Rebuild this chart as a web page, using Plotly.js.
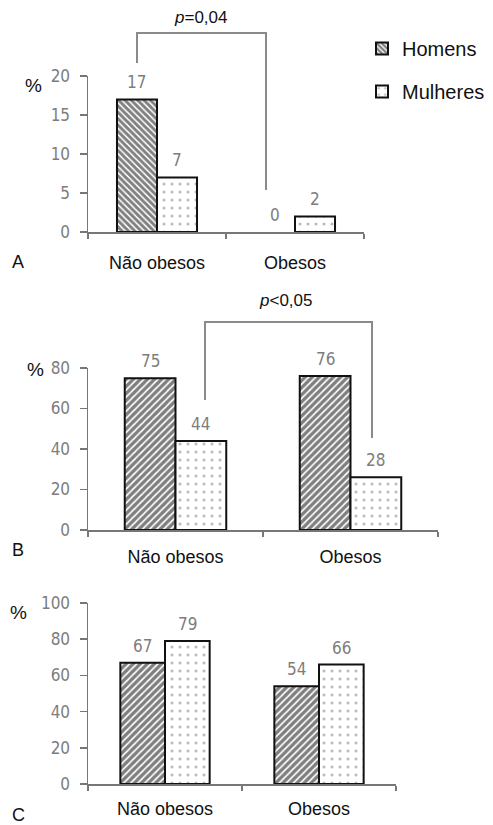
<!DOCTYPE html>
<html>
<head>
<meta charset="utf-8">
<script src="https://cdn.plot.ly/plotly-3.0.1.min.js"></script>
<style>html,body{margin:0;padding:0;background:#fff;}#chart{width:493px;height:825px;}</style>
</head>
<body>
<div id="chart"></div>
<script>
// ---- data ----
const categories = ['Não obesos', 'Obesos'];
const homensA = [17, 0];
const mulheresA = [7, 2];
const homensALabels = ['17', '0'];
const mulheresALabels = ['7', '2'];
const homensB = [75, 76];
const mulheresB = [44, 26];
const homensBLabels = ['75', '76'];
const mulheresBLabels = ['44', '28'];
const homensC = [67, 54];
const mulheresC = [79, 66];
const homensCLabels = ['67', '54'];
const mulheresCLabels = ['79', '66'];
const yTicksA = [0, 5, 10, 15, 20];
const yTicksB = [0, 20, 40, 60, 80];
const yTicksC = [0, 20, 40, 60, 80, 100];
const pTextA = '<i>p</i>=0,04';
const pTextB = '<i>p</i>&lt;0,05';

// ---- helpers ----
const W = 493, H = 825;
const px = x => x / W;
const py = y => 1 - y / H;
const BARGAP = 0.42;
const grayText = '#7d7d7d';
const numFont = {family: '"Liberation Sans Narrow", "DejaVu Sans Condensed", Arial, sans-serif', size: 17, color: grayText};
const blackFont = {family: '"Liberation Sans", Arial, sans-serif', size: 18, color: '#111'};

function hatch(shape, size) {
  return {shape: shape, size: size, solidity: 0.66, fgcolor: '#000', bgcolor: '#fff', fillmode: 'overlay'};
}
const dots = {shape: '.', size: 8, solidity: 0.12, fgcolor: '#777', bgcolor: '#fff', fillmode: 'overlay'};

function barTrace(name, vals, xa, ya, pattern, showlegend, group) {
  return {
    type: 'bar', name: name, x: categories, y: vals,
    xaxis: xa, yaxis: ya, showlegend: showlegend, legendgroup: group,
    marker: {color: '#fff', pattern: pattern,
      line: {color: '#111', width: vals.map(v => v === 0 ? 0 : 2)}},
    hoverinfo: 'skip'
  };
}

const data = [
  barTrace('Homens', homensA, 'x', 'y', hatch('\\', 4.5), true, 'h'),
  barTrace('Mulheres', mulheresA, 'x', 'y', dots, true, 'm'),
  barTrace('Homens', homensB, 'x2', 'y2', hatch('/', 5), false, 'h'),
  barTrace('Mulheres', mulheresB, 'x2', 'y2', dots, false, 'm'),
  barTrace('Homens', homensC, 'x3', 'y3', hatch('/', 5), false, 'h'),
  barTrace('Mulheres', mulheresC, 'x3', 'y3', dots, false, 'm')
];

// value labels placed through the axes' own scales
const halfBar = (1 - BARGAP) / 4;
function valueLabels(vals, labels, xa, ya, side) {
  return vals.map((v, i) => ({
    text: labels[i], xref: xa, yref: ya, x: i + side * halfBar, y: v,
    xanchor: 'center', yanchor: 'bottom', yshift: 5, showarrow: false, font: numFont
  }));
}

function xAxis(dom, anchor, standoff) {
  return {domain: dom, anchor: anchor, type: 'category', range: [-0.5, 1.5],
    showline: true, linecolor: '#777', linewidth: 1.5, ticks: 'outside', tickson: 'boundaries',
    ticklen: 5, tickcolor: '#777', tickwidth: 1.5, showgrid: false, zeroline: false,
    tickfont: blackFont, ticklabelstandoff: standoff, fixedrange: true};
}
function yAxis(dom, anchor, range, ticks) {
  return {domain: dom, anchor: anchor, range: range, tickvals: ticks,
    showline: true, linecolor: '#777', linewidth: 1.5, ticks: 'outside', ticklen: 7,
    tickcolor: '#777', tickwidth: 1.5, showgrid: false, zeroline: false,
    tickfont: numFont, ticklabelstandoff: 6, fixedrange: true};
}

function ann(text, x, y, font) {
  return {text: text, xref: 'paper', yref: 'paper', x: px(x), y: py(y),
    xanchor: 'center', yanchor: 'middle', showarrow: false, font: font};
}
const labelFont = {family: '"Liberation Sans", Arial, sans-serif', size: 18, color: '#111'};
const pctFont = {family: '"Liberation Sans", Arial, sans-serif', size: 19, color: '#111'};
const pFont = {family: '"Liberation Sans", Arial, sans-serif', size: 17, color: '#111'};

const bracketStyle = {color: '#8a8a8a', width: 2};

const layout = {
  width: W, height: H,
  margin: {l: 0, r: 0, t: 0, b: 0},
  paper_bgcolor: '#fff', plot_bgcolor: 'rgba(0,0,0,0)',
  barmode: 'group', bargap: BARGAP, bargroupgap: 0,
  xaxis: xAxis([px(88), px(364)], 'y', 14),
  yaxis: yAxis([py(232), py(76)], 'x', [0, 20], yTicksA),
  xaxis2: xAxis([px(88), px(438)], 'y2', 10),
  yaxis2: yAxis([py(530), py(368)], 'x2', [0, 80], yTicksB),
  xaxis3: xAxis([px(88), px(396)], 'y3', 8),
  yaxis3: yAxis([py(784), py(603)], 'x3', [0, 100], yTicksC),
  showlegend: true,
  legend: {x: px(362), y: py(29), xanchor: 'left', yanchor: 'top',
    font: {family: '"Liberation Sans", Arial, sans-serif', size: 20, color: '#111'},
    traceorder: 'grouped', tracegroupgap: 14, bgcolor: 'rgba(0,0,0,0)'},
  shapes: [
    {type: 'path', xref: 'paper', yref: 'paper', line: bracketStyle,
      path: `M ${px(137)},${py(63)} L ${px(137)},${py(33)} L ${px(266)},${py(33)} L ${px(266)},${py(190)}`},
    {type: 'path', xref: 'paper', yref: 'paper', line: bracketStyle,
      path: `M ${px(205)},${py(400)} L ${px(205)},${py(322)} L ${px(372)},${py(322)} L ${px(372)},${py(438)}`}
  ],
  annotations: [
    ann(pTextA, 200, 17, pFont),
    ann(pTextB, 285, 300, pFont),
    ann('%', 33, 85, pctFont),
    ann('%', 35, 369, pctFont),
    ann('%', 18, 612, pctFont),
    ann('A', 18, 262, labelFont),
    ann('B', 18, 550, labelFont),
    ann('C', 18, 815, labelFont)
  ].concat(
    valueLabels(homensA, homensALabels, 'x', 'y', -1),
    valueLabels(mulheresA, mulheresALabels, 'x', 'y', 1),
    valueLabels(homensB, homensBLabels, 'x2', 'y2', -1),
    valueLabels(mulheresB, mulheresBLabels, 'x2', 'y2', 1),
    valueLabels(homensC, homensCLabels, 'x3', 'y3', -1),
    valueLabels(mulheresC, mulheresCLabels, 'x3', 'y3', 1)
  )
};

Plotly.newPlot('chart', data, layout, {displayModeBar: false, staticPlot: true});
</script>
</body>
</html>
